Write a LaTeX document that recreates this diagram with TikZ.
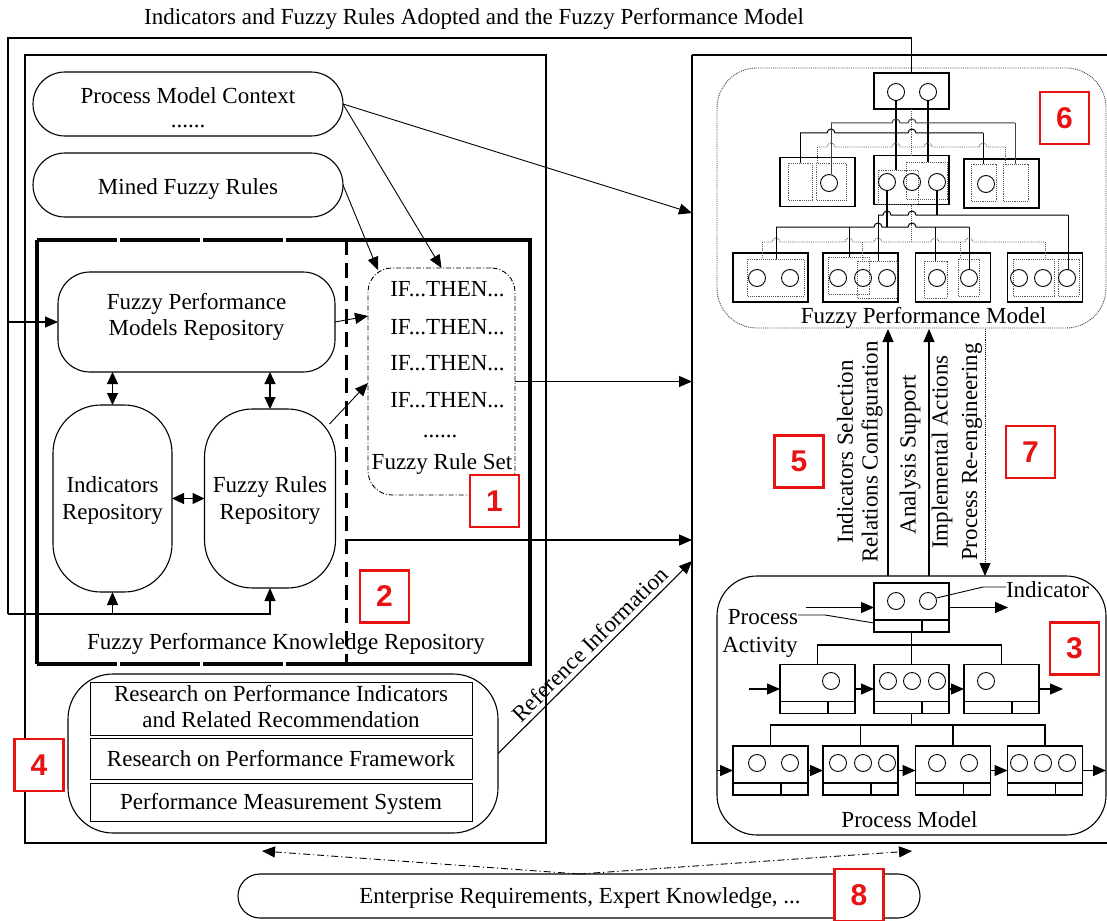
\documentclass[tikz,border=0pt]{standalone}
\usepackage{fontspec}
\setmainfont{Liberation Serif}
\newfontfamily\tagfont{Liberation Sans}
\usetikzlibrary{arrows.meta,calc}
\definecolor{tagred}{RGB}{232,18,18}

% horizontal bus line with hop-over arcs: [style]{x1}{x2}{y}{hop x list}
\newcommand\hopbus[5][]{\draw[#1] (#2,#4) foreach \h in {#5}{ -- (\h-4,#4) arc[start angle=180,end angle=0,radius=4pt]} -- (#3,#4);}
% process activity box with its bottom divider strip
\newcommand\activity[3]{%
  \node[actbox] (#1) at (#2,#3) {};
  \draw ($(#1.south west)+(0,-12)$) -- ($(#1.south east)+(0,-12)$);
  \draw ($(#1.south west)+(48,0)$) -- ++(0,-12);}

\begin{document}
\begin{tikzpicture}[x=1pt,y=-1pt,line width=1.1pt,
  every node/.style={font=\fontsize{23}{27}\selectfont,inner sep=0pt,outer sep=0pt},
  arr/.style={-{Triangle[length=13pt,width=11pt]}},
  darr/.style={{Triangle[length=12pt,width=11pt]}-{Triangle[length=12pt,width=11pt]}},
  tag/.style={draw=tagred,line width=2.6pt,fill=white,text=tagred,minimum width=49pt,minimum height=52pt,
    font=\tagfont\bfseries\fontsize{30}{31}\selectfont},
  actbox/.style={draw,minimum width=75pt,minimum height=49pt},
  fbox/.style={draw,minimum width=75pt,minimum height=49pt},
  dotln/.style={densely dotted,line width=0.9pt,gray!70!black},
  thinln/.style={line width=0.9pt},
  busln/.style={line width=1pt},
  lbl/.style={anchor=base},
  dashdotln/.style={line width=0.9pt,dash pattern=on 7pt off 3pt on 1.2pt off 3pt},
]
\useasboundingbox (0,0) rectangle (1107,920);
\clip (0,0) rectangle (1107,920);

% ---------- title ----------
\node[lbl] (title) at (474,25) {Indicators and Fuzzy Rules Adopted and the Fuzzy Performance Model};

% ---------- left panel ----------
\draw (25,55) rectangle (546,843);
\node[draw,rounded corners=31.9pt,minimum width=310pt,minimum height=64pt] (pmc) at (188,104) {};
\node[lbl] at (188,104) {Process Model Context};
\node[lbl] at (188,128) {......};
\node[draw,rounded corners=31.9pt,minimum width=310pt,minimum height=64pt] (mfr) at (188,185) {};
\node[lbl] at (188,194) {Mined Fuzzy Rules};

% knowledge repository frame
\draw[line width=3.4pt] (346,240) -- (530,240) -- (530,664) -- (346,664);
\draw[line width=3.4pt] (37,240) -- (37,664);
\draw[line width=3.4pt,dash pattern=on 80pt off 3pt] (37,240) -- (346,240);
\draw[line width=3.4pt,dash pattern=on 80pt off 3pt] (37,664) -- (346,664);
\draw[line width=3pt,dash pattern=on 15pt off 8pt] (346,240) -- (346,664);
\node[lbl] at (286,649) {Fuzzy Performance Knowledge Repository};

\node[draw,rounded corners=32pt,minimum width=277pt,minimum height=100pt] (fpmr) at (196.5,322) {};
\node[lbl] at (196.5,309) {Fuzzy Performance};
\node[lbl] at (196.5,335) {Models Repository};
\node[draw,rounded corners=48pt,minimum width=119pt,minimum height=187pt] (ir) at (112.5,498.5) {};
\node[lbl] at (112.5,492) {Indicators};
\node[lbl] at (112.5,519) {Repository};
\node[draw,rounded corners=48pt,minimum width=131pt,minimum height=179pt] (frr) at (270,498.5) {};
\node[lbl] at (270,492) {Fuzzy Rules};
\node[lbl] at (270,519) {Repository};

\draw[darr] (ir.north) -- (ir.north |- fpmr.south);
\draw[darr] (frr.north) -- (frr.north |- fpmr.south);
\draw[darr] (ir.east) -- (frr.west);

% fuzzy rule set
\node[draw,thinln,dash pattern=on 5pt off 2pt on 1pt off 2pt,rounded corners=24pt,
  minimum width=147pt,minimum height=227pt] (frs) at (441.5,381.5) {};
\foreach \yy in {296,334,370,407} \node[lbl] at (447.5,\yy) {IF...THEN...};
\node[lbl] at (440,437) {......};
\node[lbl] at (442,469) {Fuzzy Rule Set};

\coordinate (frsA) at (368,316);
\coordinate (frsB) at (368,383);
\coordinate (frsC) at (378,270);
\draw[arr,thinln] (fpmr.east) -- (frsA);
\draw[arr,thinln] ($(frr.north east)+(-6,15)$) -- (frsB);
\draw[arr,thinln] (pmc.east) -- (frs.north);
\draw[arr,thinln] (mfr.east) -- (frsC);

% research box
\node[draw,rounded corners=45pt,minimum width=430pt,minimum height=159pt] (rb) at (283,753.5) {};
\node[draw,thinln,minimum width=382pt,minimum height=53pt] (rb1) at (281,708.5) {};
\node[draw,thinln,minimum width=382pt,minimum height=41pt] (rb2) at (281,758.5) {};
\node[draw,thinln,minimum width=382pt,minimum height=38pt] (rb3) at (281,802) {};
\node[lbl] at (281,701) {Research on Performance Indicators};
\node[lbl] at (281,727) {and Related Recommendation};
\node[lbl] at (281,766) {Research on Performance Framework};
\node[lbl] at (281,809) {Performance Measurement System};

% ---------- right panel ----------
\draw (692,55) -- (1107,55) (692,55) -- (692,843) -- (1107,843);
\draw[densely dotted,line width=0.9pt,gray!50!black,rounded corners=40pt] (717,68) rectangle (1106,328);
\node[lbl] at (923.5,323) {Fuzzy Performance Model};
\draw[rounded corners=40pt] (717,576) rectangle (1106,835);
\node[lbl] at (909.5,827) {Process Model};

% fuzzy performance model boxes
\node[fbox,minimum height=36pt] (ft) at (911.5,91) {};
\node[fbox] (fm1) at (817.5,182) {};
\node[fbox] (fm2) at (911.5,180) {};
\node[fbox] (fm3) at (1001.5,183.5) {};
\foreach \n/\x in {fb1/770.5,fb2/860.5,fb3/953,fb4/1045}
  \node[fbox] (\n) at (\x,277.5) {};
\foreach \a/\b/\c/\d in {788/163/812/200,816/163/846/200,878/170/918/204,906/162/947/199,
  971/164/996/201,1003/164/1028/201,747/259/804/296,828/257/869/294,857/261/897/298,
  924/261/947/298,958/259/979/296,1013/259/1054/296,1058/259/1079/296}
  \draw[dotln] (\a,\b) rectangle (\c,\d);
\foreach \x/\y in {896/92,928/92,829/183,887/182,912/182,937/182,986/184,
  757/278,790/278,838/278,863/278,887/278,937/278,969/278,1019/278,1043/278,1067/278}
  \draw[thinln] (\x,\y) circle[radius=8.5pt];

% links between the top level and the middle level
\draw[line width=1.4pt] (896,100.5) -- (896,170);
\draw[line width=1.4pt] (928,100.5) -- (928,162);
\draw[dotln] (ft.south) -- (fm2.north);
\hopbus[busln]{800}{983}{133}{831,912}
\draw[busln] (800,133) -- (800,163) (983,133) -- (983,164);
\hopbus[busln,black!75]{831}{1015}{123}{896,912}
\draw[busln,black!75] (831,123) -- (831,174.5) (1015,123) -- (1015,164);
\hopbus[dotln]{817}{1005}{147}{831,896,928,983}
\draw[dotln] (817,147) -- (817,163) (1005,147) -- (1005,164);

% links between the middle level and the bottom level
\draw[line width=1.4pt] (887,190.5) -- (887,227);
\draw[line width=1.4pt] (937,190.5) -- (937,215);
\draw[dotln] (fm2.south) -- (911.5,242);
\hopbus[busln]{878}{1068}{215}{887,912}
\draw[busln] (878,215) -- (878,261) (1068,215) -- (1068,269.5);
\hopbus[busln]{776}{969}{227}{878,912}
\draw[busln] (776,227) -- (776,259) (849,227) -- (849,257) (935,227) -- (935,261) (969,227) -- (969,269.5);
\hopbus[dotln]{762}{1045}{242}{776,849,878,935,969}
\draw[dotln] (762,242) -- (762,259) (862,242) -- (862,261) (960,242) -- (960,259) (1045,242) -- (1045,259);

% process model activities
\activity{p0}{911.5}{607.5}
\activity{q1}{817.5}{689}
\activity{q2}{911.5}{689}
\activity{q3}{1001.5}{689}
\activity{r1}{770.5}{770.5}
\activity{r2}{860.5}{770.5}
\activity{r3}{953}{770.5}
\activity{r4}{1045}{770.5}
\foreach \x/\y in {896/601,928/601,831/681,888/681,912/681,937/681,986/681,
  757/763,790/763,838/763,863/763,887/763,937/763,969/763,1019/763,1043/763,1067/763}
  \draw[thinln] (\x,\y) circle[radius=8.5pt];

\draw (p0.south) -- (q2.north);
\draw (q1.north) -- ++(0,-19.5) -| (q3.north);
\draw (q2.south) -- ++(0,12);
\draw (r1.north) -- ++(0,-21) -| (r4.north);
\draw (r2.north) -- ++(0,-21) (r3.north) -- ++(0,-21);

\coordinate (pin) at (806,607.5);
\coordinate (pout) at (1008,607.5);
\coordinate (qin) at (749,689);
\coordinate (qout) at (1063,689);
\coordinate (rin) at (717,770.5);
\coordinate (rout) at (1106,770.5);
\draw[arr] (pin) -- (p0.west);
\draw[arr] (p0.east) -- (pout);
\draw[arr] (qin) -- (q1.west);
\draw[arr] (q1.east) -- (q2.west);
\draw[arr] (q2.east) -- (q3.west);
\draw[arr] (q3.east) -- (qout);
\draw[arr] (rin) -- (r1.west);
\draw[arr] (r1.east) -- (r2.west);
\draw[arr] (r2.east) -- (r3.west);
\draw[arr] (r3.east) -- (r4.west);
\draw[arr] (r4.east) -- (rout);

\node[lbl] (indlbl) at (1047.5,597) {Indicator};
\draw[thinln] (936.5,598) -- (983,587) -- (indlbl.west |- 0,587);
\node[lbl] (palbl) at (763,624) {Process};
\node[lbl] at (760,652) {Activity};
\draw[thinln] (798,615) -- (825,615) -- (874,623);

% links between the two models
\coordinate (upA) at (888,329);
\coordinate (upB) at (929,329);
\coordinate (dnA) at (985,329);
\draw[arr] (888,576) -- (upA);
\draw[arr] (929,576) -- (upB);
\draw[arr,densely dotted,line width=0.9pt] (dnA) -- (985,576);
\node[rotate=90] at (845,452) {Indicators Selection};
\node[rotate=90] at (872,452) {Relations Configuration};
\node[rotate=90] at (910,455) {Analysis Support};
\node[rotate=90] at (942,452) {Implemental Actions};
\node[rotate=90] at (972,452) {Process Re-engineering};

% ---------- connectors between panels ----------
\coordinate (feedT) at (8,38);
\coordinate (feedM) at (8,322);
\coordinate (feedL) at (8,614);
\draw (ft.north) |- (feedT) -- (feedL);
\draw[arr] (feedM) -- (fpmr.west);
\draw[arr] (feedL) -| (ir.south);
\draw[arr] (feedL) -| (frr.south);

\coordinate (inCtx) at (692,213);
\coordinate (inRules) at (692,381.5);
\coordinate (inRepo) at (692,540);
\coordinate (inRef) at (692,561);
\coordinate (repoOut) at (346,540);
\draw[arr,thinln] (pmc.east) -- (inCtx);
\draw[arr] (frs.east) -- (inRules);
\draw[arr] (repoOut) -- (inRepo);
\draw[arr] (rb.east) -- node[pos=0.52,sloped,above=5pt] {Reference Information} (inRef);

% enterprise requirements
\node[draw,rounded corners=21.9pt,minimum width=682pt,minimum height=44pt] (ent) at (579,896) {};
\node[lbl] at (580,903) {Enterprise Requirements, Expert Knowledge, ...};
\coordinate (entL) at (262,851);
\coordinate (entR) at (912,851);
\draw[arr,dashdotln] (ent.north) -- (entL);
\draw[arr,dashdotln] (ent.north) -- (entR);

% numbered tags
\node[tag] at (494.5,501) {1};
\node[tag] at (384.5,596.5) {2};
\node[tag] at (1074.5,648.5) {3};
\node[tag] at (39,765) {4};
\node[tag] at (799,461.5) {5};
\node[tag] at (1064.5,118) {6};
\node[tag] at (1030.5,452) {7};
\node[tag] at (859,895) {8};
\end{tikzpicture}
\end{document}
